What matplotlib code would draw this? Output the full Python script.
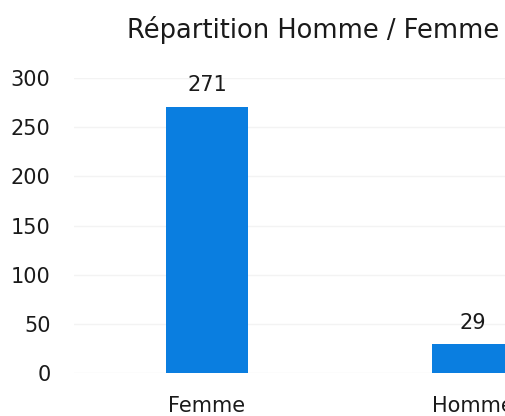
import matplotlib.pyplot as plt

categories = ['Femme', 'Homme']
counts = [271, 29]
y_ticks = [0, 50, 100, 150, 200, 250, 300]

fig = plt.figure(figsize=(5.06, 4.16), dpi=100)
# axes runs past the right edge, like the cropped screenshot
ax = fig.add_axes([74 / 506, 43 / 416, 532 / 506, 295 / 416])

bar_color = '#0a7ee0'
text_color = '#1a1a1a'

bars = ax.bar(range(len(categories)), counts, width=82 / 266, color=bar_color, zorder=2)

for x, v in enumerate(counts):
    ax.annotate(str(v), (x, v), xytext=(0, 11), textcoords='offset points',
                ha='center', va='baseline', fontsize=15, color=text_color)

ax.set_xlim(-0.5, 1.5)
ax.set_ylim(0, 300)
ax.set_yticks(y_ticks)
ax.set_xticks(range(len(categories)))
ax.set_xticklabels(categories)
ax.tick_params(axis='both', length=0, labelsize=15, labelcolor=text_color)
ax.tick_params(axis='y', pad=17)
ax.tick_params(axis='x', pad=16.5)
ax.grid(axis='y', color='#f3f3f3', linewidth=1, zorder=0)
for s in ax.spines.values():
    s.set_visible(False)

fig.text(313 / 506, 1 - 30 / 416, 'Répartition Homme / Femme', ha='center', va='center',
         fontsize=18.5, color=text_color)

fig.savefig('out.png', dpi=100)
